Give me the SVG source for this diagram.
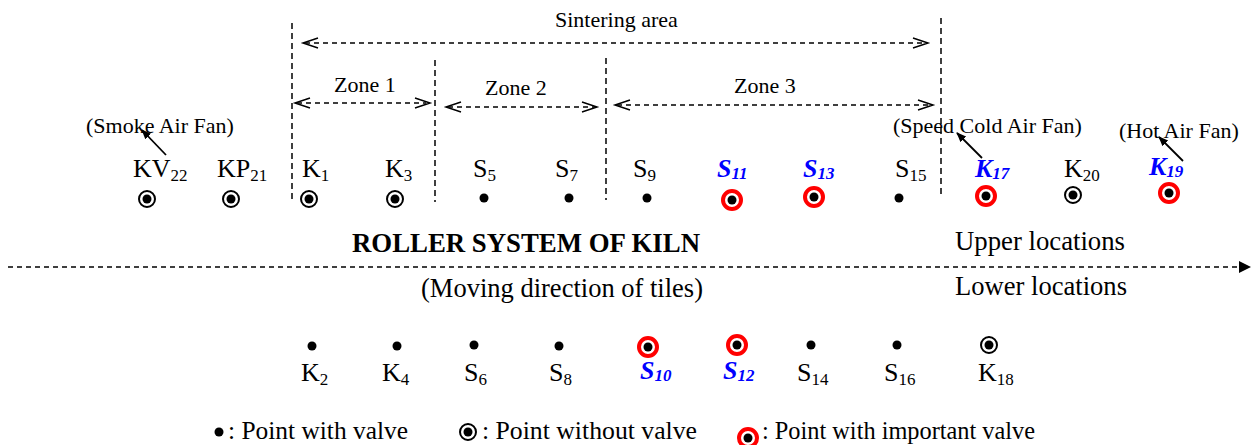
<svg xmlns="http://www.w3.org/2000/svg" width="1259" height="445" viewBox="0 0 1259 445">
<defs>
<style>
text{font-family:"Liberation Serif","Times New Roman",serif;fill:#000}
.lb{font-size:26px}
.sb{font-size:17px}
.im{fill:#0000ff;font-weight:bold;font-style:italic}
.im tspan{fill:#0000ff}
.fan{font-size:22px}
.mid{font-size:22px}
.big{font-size:26.5px}
.leg{font-size:25px}
.vd{stroke:#000;stroke-width:1.5;stroke-dasharray:6 4;fill:none}
.hd{stroke:#000;stroke-width:1.5;stroke-dasharray:5 4;fill:none}
.oh{stroke:#000;stroke-width:1.5;fill:none}
.ring{fill:#fff;stroke:#000;stroke-width:2}
.rring{fill:#fff;stroke:#ff0000;stroke-width:4}
</style>
<marker id="fa" viewBox="0 0 10 10" refX="9" refY="5" markerWidth="10" markerHeight="10" markerUnits="userSpaceOnUse" orient="auto"><path d="M0,1 L10,5 L0,9 Z" fill="#000"/></marker>
<marker id="ma" viewBox="0 0 12 12" refX="11" refY="6" markerWidth="12" markerHeight="12" markerUnits="userSpaceOnUse" orient="auto"><path d="M0,0 L12,6 L0,12 Z" fill="#000"/></marker>
<symbol id="dot" overflow="visible"><circle cx="0" cy="0" r="4.5" fill="#000"/></symbol>
<symbol id="nov" overflow="visible"><circle cx="0" cy="0" r="8" class="ring"/><circle cx="0" cy="0" r="4.5" fill="#000"/></symbol>
<symbol id="imp" overflow="visible"><circle cx="0" cy="0" r="9" class="rring"/><circle cx="0" cy="0" r="4.5" fill="#000"/></symbol>
</defs>
<rect width="1259" height="445" fill="#fff"/>

<g id="connectors">
<line class="vd" x1="292" y1="23" x2="292" y2="202"/>
<line class="vd" x1="435" y1="60" x2="435" y2="202"/>
<line class="vd" x1="606" y1="58" x2="606" y2="200"/>
<line class="vd" x1="941" y1="18" x2="941" y2="197"/>
<line class="hd" x1="305" y1="43" x2="926" y2="43"/>
<path class="oh" d="M318,38 L303,43 L318,48 M913,38 L928,43 L913,48"/>
<line class="hd" x1="297" y1="103" x2="426" y2="103"/>
<path class="oh" d="M310,98 L295,103 L310,108 M415,98 L430,103 L415,108"/>
<line class="hd" x1="448" y1="107" x2="595" y2="107"/>
<path class="oh" d="M461,102 L446,107 L461,112 M582,102 L597,107 L582,112"/>
<line class="hd" x1="617" y1="105" x2="931" y2="105"/>
<path class="oh" d="M630,100 L615,105 L630,110 M918,100 L933,105 L918,110"/>
<line class="hd" x1="8" y1="267" x2="1250" y2="267" marker-end="url(#ma)"/>
<line stroke="#000" stroke-width="1.8" x1="166" y1="155" x2="142" y2="130" marker-end="url(#fa)"/>
<line stroke="#000" stroke-width="1.8" x1="982" y1="158" x2="957" y2="133" marker-end="url(#fa)"/>
<line stroke="#000" stroke-width="1.8" x1="1183" y1="161" x2="1159" y2="137" marker-end="url(#fa)"/>
</g>

<g id="titles">
<text class="mid" x="555" y="27">Sintering area</text>
<text class="mid" x="334" y="92">Zone 1</text>
<text class="mid" x="485" y="95">Zone 2</text>
<text class="mid" x="734" y="93">Zone 3</text>
<text class="fan" x="86" y="133">(Smoke Air Fan)</text>
<text class="fan" x="893" y="133">(Speed Cold Air Fan)</text>
<text class="fan" x="1119" y="138">(Hot Air Fan)</text>
<text x="352" y="252" font-size="26.7" font-weight="bold" textLength="348" lengthAdjust="spacingAndGlyphs">ROLLER SYSTEM OF KILN</text>
<text class="big" x="955" y="250" textLength="170" lengthAdjust="spacingAndGlyphs">Upper locations</text>
<text class="big" x="955" y="295" textLength="172" lengthAdjust="spacingAndGlyphs">Lower locations</text>
<text class="big" x="421" y="297" textLength="282" lengthAdjust="spacingAndGlyphs">(Moving direction of tiles)</text>
</g>

<g id="node-KV22"><text class="lb" x="133" y="177">KV<tspan class="sb" dy="4">22</tspan></text><use href="#nov" x="147" y="199"/></g>
<g id="node-KP21"><text class="lb" x="217" y="177">KP<tspan class="sb" dy="4">21</tspan></text><use href="#nov" x="231" y="199"/></g>
<g id="node-K1"><text class="lb" x="302" y="177">K<tspan class="sb" dy="4">1</tspan></text><use href="#nov" x="309" y="199"/></g>
<g id="node-K3"><text class="lb" x="385" y="177">K<tspan class="sb" dy="4">3</tspan></text><use href="#nov" x="395" y="199"/></g>
<g id="node-S5"><text class="lb" x="473" y="177">S<tspan class="sb" dy="4">5</tspan></text><use href="#dot" x="484" y="198"/></g>
<g id="node-S7"><text class="lb" x="555" y="177">S<tspan class="sb" dy="4">7</tspan></text><use href="#dot" x="569" y="198"/></g>
<g id="node-S9"><text class="lb" x="633" y="177">S<tspan class="sb" dy="4">9</tspan></text><use href="#dot" x="647" y="198"/></g>
<g id="node-S11"><text class="lb im" x="717" y="177">S<tspan class="sb" dy="2">11</tspan></text><use href="#imp" x="732" y="200"/></g>
<g id="node-S13"><text class="lb im" x="803" y="177">S<tspan class="sb" dy="2">13</tspan></text><use href="#imp" x="814" y="197"/></g>
<g id="node-S15"><text class="lb" x="895" y="177">S<tspan class="sb" dy="4">15</tspan></text><use href="#dot" x="899" y="198"/></g>
<g id="node-K17"><text class="lb im" x="975" y="177">K<tspan class="sb" dy="2">17</tspan></text><use href="#imp" x="986" y="196"/></g>
<g id="node-K20"><text class="lb" x="1064" y="177">K<tspan class="sb" dy="4">20</tspan></text><use href="#nov" x="1073" y="195"/></g>
<g id="node-K19"><text class="lb im" x="1149" y="175">K<tspan class="sb" dy="2">19</tspan></text><use href="#imp" x="1169" y="193"/></g>

<g id="node-K2"><use href="#dot" x="312" y="346"/><text class="lb" x="301" y="381">K<tspan class="sb" dy="4">2</tspan></text></g>
<g id="node-K4"><use href="#dot" x="397" y="346"/><text class="lb" x="382" y="381">K<tspan class="sb" dy="4">4</tspan></text></g>
<g id="node-S6"><use href="#dot" x="474" y="345"/><text class="lb" x="464" y="381">S<tspan class="sb" dy="4">6</tspan></text></g>
<g id="node-S8"><use href="#dot" x="559" y="346"/><text class="lb" x="549" y="381">S<tspan class="sb" dy="4">8</tspan></text></g>
<g id="node-S10"><use href="#imp" x="648" y="347"/><text class="lb im" x="640" y="379">S<tspan class="sb" dy="2">10</tspan></text></g>
<g id="node-S12"><use href="#imp" x="737" y="345"/><text class="lb im" x="723" y="379">S<tspan class="sb" dy="2">12</tspan></text></g>
<g id="node-S14"><use href="#dot" x="811" y="345"/><text class="lb" x="797" y="381">S<tspan class="sb" dy="4">14</tspan></text></g>
<g id="node-S16"><use href="#dot" x="897" y="345"/><text class="lb" x="884" y="381">S<tspan class="sb" dy="4">16</tspan></text></g>
<g id="node-K18"><use href="#nov" x="989" y="345"/><text class="lb" x="978" y="381">K<tspan class="sb" dy="4">18</tspan></text></g>

<g id="legend">
<use href="#dot" x="219" y="432"/>
<text class="leg" x="228" y="439" textLength="180" lengthAdjust="spacingAndGlyphs">: Point with valve</text>
<use href="#nov" x="468" y="432"/>
<text class="leg" x="482" y="439" textLength="215" lengthAdjust="spacingAndGlyphs">: Point without valve</text>
<use href="#imp" x="748" y="438"/>
<text class="leg" x="762" y="439" textLength="273" lengthAdjust="spacingAndGlyphs">: Point with important valve</text>
</g>
</svg>
